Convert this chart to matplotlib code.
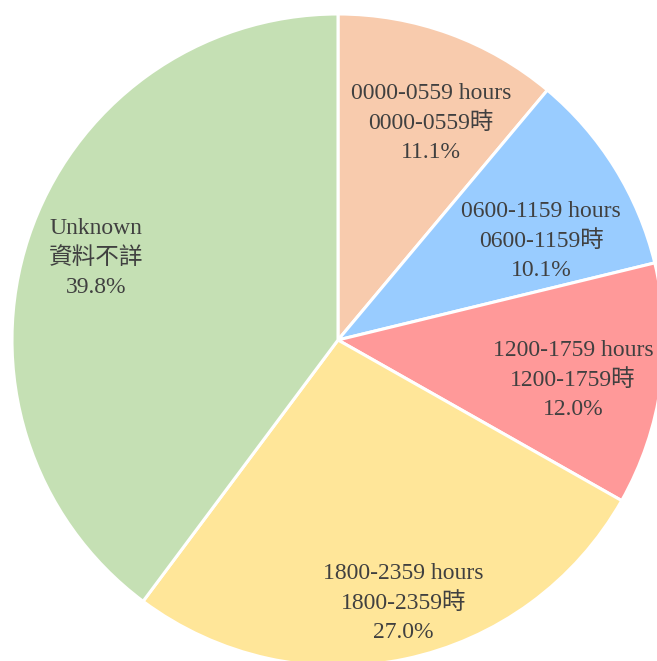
import matplotlib
matplotlib.use("Agg")
import matplotlib.pyplot as plt
import numpy as np

plt.rcParams['font.family'] = ['Liberation Serif', 'Noto Sans CJK TC']

labels_en = ['0000-0559 hours', '0600-1159 hours', '1200-1759 hours', '1800-2359 hours', 'Unknown']
labels_zh = ['0000-0559時', '0600-1159時', '1200-1759時', '1800-2359時', '資料不詳']
shares = [11.1, 10.1, 12.0, 27.0, 39.8]
colors = ['#F8CBAD', '#99CCFF', '#FF9999', '#FFE699', '#C5E0B4']
# label radius (fraction of pie radius) and angle tweak in degrees
label_r = [0.724, 0.693, 0.731, 0.832, 0.784]
label_dang = [-3.2, -5.9, -1.8, 2.1, -0.4]

fig = plt.figure(figsize=(6.57, 6.61), dpi=100)
# pie is slightly bigger than the figure, bottom and right get clipped
ax = fig.add_axes([12 / 657, -5 / 661, 652 / 657, 652 / 661])
wedges, _ = ax.pie(shares, colors=colors, startangle=90, counterclock=False,
                   wedgeprops=dict(edgecolor='white', linewidth=2.2))
ax.set_xlim(-1, 1)
ax.set_ylim(-1, 1)
ax.set_aspect('equal')
ax.axis('off')

for w, en, zh, s, r, da in zip(wedges, labels_en, labels_zh, shares, label_r, label_dang):
    ang = np.deg2rad((w.theta1 + w.theta2) / 2 + da)
    ax.text(r * np.cos(ang), r * np.sin(ang), f'{en}\n{zh}\n{s:.1f}%',
            ha='center', va='center', fontsize=17, color='#404040',
            linespacing=1.5)

fig.savefig('out.png', dpi=100)
